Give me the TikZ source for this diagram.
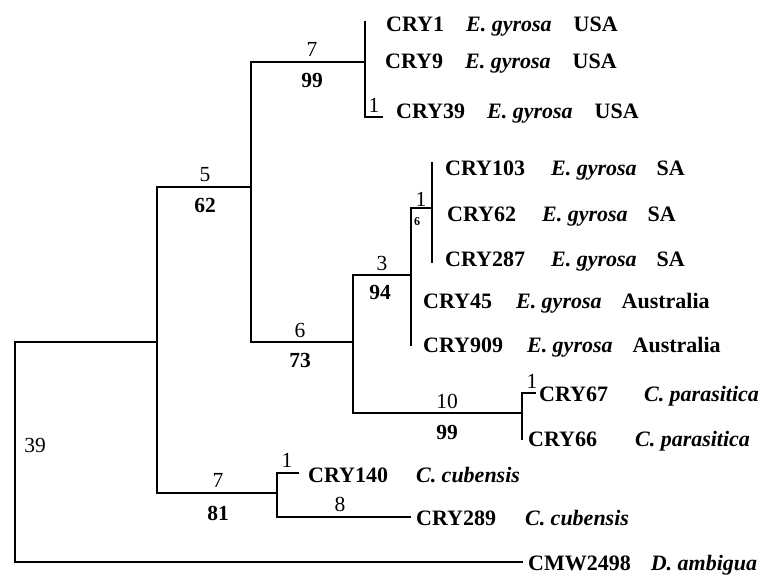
\documentclass[tikz,border=0pt]{standalone}
\usepackage{fontspec}
\setmainfont{Liberation Serif}
\usetikzlibrary{positioning}

\begin{document}
\begin{tikzpicture}[
    x=1pt, y=-1pt,
    branch/.style={line width=1.3pt, line cap=rect},
    leaf/.style={anchor=base west, inner sep=0pt, font=\fontsize{22}{24}\selectfont\bfseries},
    steps/.style={inner sep=0pt, font=\fontsize{21.5}{23}\selectfont},
    boot/.style={inner sep=0pt, font=\fontsize{21.5}{23}\selectfont\bfseries},
    smallboot/.style={inner sep=0pt, font=\fontsize{12}{13}\selectfont\bfseries}
]
\useasboundingbox (0,0) rectangle (777,576);

% Internal nodes
\coordinate (root) at (15,342);
\coordinate (nA)   at (157,342);
\coordinate (nB)   at (251,187);
\coordinate (nC)   at (365,62);
\coordinate (nD)   at (353,342);
\coordinate (nE)   at (411,275);
\coordinate (nF)   at (432,208);
\coordinate (nG)   at (522,413);
\coordinate (nH)   at (277,493);

% Branch tips
\coordinate (t1)    at (365,22);
\coordinate (t9)    at (365,62);
\coordinate (t39)   at (382,117);
\coordinate (t103)  at (432,163);
\coordinate (t62)   at (432,213);
\coordinate (t287)  at (432,262);
\coordinate (t45)   at (411,300);
\coordinate (t909)  at (411,345);
\coordinate (t67)   at (535,393);
\coordinate (t66)   at (522,439);
\coordinate (t140)  at (298,473);
\coordinate (t289)  at (410,517);
\coordinate (t2498) at (522,562);

% Leaves
\node[leaf] (cry1)   at (386,31)  {CRY1\hspace{22pt}\textit{E. gyrosa}\hspace{22pt}USA};
\node[leaf] (cry9)   at (385,68)  {CRY9\hspace{22pt}\textit{E. gyrosa}\hspace{22pt}USA};
\node[leaf] (cry39)  at (396,118) {CRY39\hspace{22pt}\textit{E. gyrosa}\hspace{22pt}USA};
\node[leaf] (cry103) at (445,175) {CRY103\hspace{26pt}\textit{E. gyrosa}\hspace{20pt}SA};
\node[leaf] (cry62)  at (447,221) {CRY62\hspace{26pt}\textit{E. gyrosa}\hspace{20pt}SA};
\node[leaf] (cry287) at (445,266) {CRY287\hspace{26pt}\textit{E. gyrosa}\hspace{20pt}SA};
\node[leaf] (cry45)  at (423,308) {CRY45\hspace{24pt}\textit{E. gyrosa}\hspace{20pt}Australia};
\node[leaf] (cry909) at (423,352) {CRY909\hspace{24pt}\textit{E. gyrosa}\hspace{20pt}Australia};
\node[leaf] (cry67)  at (539,401) {CRY67\hspace{36pt}\textit{C. parasitica}};
\node[leaf] (cry66)  at (528,446) {CRY66\hspace{38pt}\textit{C. parasitica}};
\node[leaf] (cry140) at (308,482) {CRY140\hspace{28pt}\textit{C. cubensis}};
\node[leaf] (cry289) at (416,525) {CRY289\hspace{29pt}\textit{C. cubensis}};
\node[leaf] (cmw)    at (528,570) {CMW2498\hspace{20pt}\textit{D. ambigua}};

% Branches
\draw[branch] (root) |- (nA);
\draw[branch] (root) |- (t2498);
\draw[branch] (nA) |- (nB);
\draw[branch] (nA) |- (nH);
\draw[branch] (nB) |- (nC);
\draw[branch] (nB) |- (nD);
\draw[branch] (nC) |- (t1);
\draw[branch] (nC) |- (t9);
\draw[branch] (nC) |- (t39);
\draw[branch] (nD) |- (nE);
\draw[branch] (nD) |- (nG);
\draw[branch] (nE) |- (nF);
\draw[branch] (nE) |- (t45);
\draw[branch] (nE) |- (t909);
\draw[branch] (nF) |- (t103);
\draw[branch] (nF) |- (t62);
\draw[branch] (nF) |- (t287);
\draw[branch] (nG) |- (t67);
\draw[branch] (nG) |- (t66);
\draw[branch] (nH) |- (t140);
\draw[branch] (nH) |- (t289);

% Step counts (above) and bootstrap values (below)
\node[steps] (sA)   at (35,445)  {39};
\node[steps] (sB)   at (205,175) {5};
\node[boot]  (bB)   at (205,205) {62};
\node[steps] (sC)   at (312,49)  {7};
\node[boot]  (bC)   at (312,80)  {99};
\node[steps] (s39)  at (374,105) {1};
\node[steps] (sD)   at (300,330) {6};
\node[boot]  (bD)   at (300,360) {73};
\node[steps] (sE)   at (382,263) {3};
\node[boot]  (bE)   at (380,292) {94};
\node[steps] (sF)   at (421,199) {1};
\node[smallboot] (bF) at (417,222) {6};
\node[steps] (sG)   at (447,401) {10};
\node[boot]  (bG)   at (447,432) {99};
\node[steps] (s67)  at (532,381) {1};
\node[steps] (sH)   at (218,480) {7};
\node[boot]  (bH)   at (218,513) {81};
\node[steps] (s140) at (287,460) {1};
\node[steps] (s289) at (340,504) {8};

\end{tikzpicture}
\end{document}
